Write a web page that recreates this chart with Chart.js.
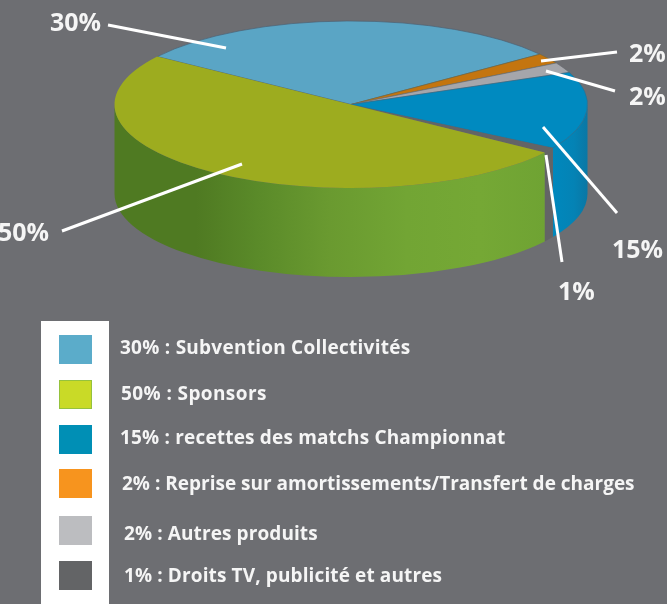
<!DOCTYPE html>
<html lang="fr">
<head>
<meta charset="utf-8">
<title>Répartition des recettes</title>
<script src="https://cdn.jsdelivr.net/npm/chart.js@4/dist/chart.umd.min.js"></script>
<style>
  html, body { margin: 0; padding: 0; background: #6d6e72; }
  #page { position: relative; width: 667px; height: 604px; overflow: hidden; background: #6d6e72; font-family: "Open Sans", sans-serif; font-weight: 700; color: #f5f5f5; }
  #pie { position: absolute; left: 0; top: 0; }
  #strip { position: absolute; left: 41px; top: 321px; width: 68px; height: 283px; background: #fff; }
  .swatch { position: absolute; left: 59px; width: 33px; height: 29px; box-sizing: border-box; }
  .legend-text { position: absolute; font-size: 19px; line-height: 24px; white-space: nowrap; }
  .pct { position: absolute; font-size: 25px; line-height: 30px; white-space: nowrap; }
</style>
</head>
<body>
<div id="page">
  <canvas id="pie" width="667" height="604"></canvas>
  <div id="strip"></div>
</div>
<script>
// slices clockwise as they sit on the pie
const categories = ['Subvention Collectivités', 'Reprise sur amortissements/Transfert de charges', 'Autres produits', 'recettes des matchs Championnat', 'Droits TV, publicité et autres', 'Sponsors']
const shares = [30, 2, 2, 15, 1, 50]

// legend reads in another order than the pie
const legendOrder = [0, 5, 3, 1, 2, 4]

const topColors = ['#5aa5c5', '#c4750f', '#a5a6ab', '#008ac0', '#636466', '#9dac1f']
const edgeColors = ['#4d5f70', '#7a6a3a', '#6a6c72', '#2f6a8a', '#636466', '#8a9f20']
const edgeWidths = [1, 1, 1, 0.8, 0, 0]
const legendColors = ['#5bacca', '#f7941e', '#bcbdc0', '#008fb5', '#636466', '#c9da27']

// side wall colours, left to right across each wall
const wallStops = {
  3: [[0, '#0088bd'], [0.6, '#0483b5'], [1, '#0a77a4']],
  4: [[0, '#636466'], [1, '#636466']],
  5: [[0, '#4f7a22'], [0.19, '#4f7a22'], [0.33, '#5a8a29'], [0.5, '#6a9a30'], [0.68, '#72a534'], [0.85, '#75a835'], [1, '#6fa333']]
}

const pieBox = { cx: 351, cy: 104.5, rx: 236.5, ry: 83.5, depth: 89 }

// leader lines and the % label at their outer end
const callouts = [
  { text: '30%', x: 50, y: 6, line: [108, 25, 226, 48] },
  { text: '50%', x: -2, y: 216, line: [62, 231, 242, 164] },
  { text: '15%', x: 612, y: 233, line: [617, 213, 543, 127] },
  { text: '1%', x: 558, y: 275, line: [562, 262, 546, 155] },
  { text: '2%', x: 629, y: 37, line: [617, 52, 541, 61] },
  { text: '2%', x: 629, y: 80, line: [615, 91, 546, 71] }
]

const legendRows = [
  { swatchTop: 335, textLeft: 120, textTop: 335, spacing: 0.25 },
  { swatchTop: 380, textLeft: 121, textTop: 381, spacing: 0.4 },
  { swatchTop: 425, textLeft: 120, textTop: 425, spacing: 0.18 },
  { swatchTop: 469, textLeft: 122, textTop: 471, spacing: 0 },
  { swatchTop: 516, textLeft: 124, textTop: 521, spacing: 0.1 },
  { swatchTop: 561, textLeft: 124, textTop: 563, spacing: 0.12 }
]

const page = document.getElementById('page')

const addDiv = (className, text, left, top) => {
  const el = document.createElement('div')
  el.className = className
  el.textContent = text
  el.style.left = `${left}px`
  el.style.top = `${top}px`
  page.appendChild(el)
  return el
}

legendOrder.forEach((slice, i) => {
  const row = legendRows[i]
  const swatch = addDiv('swatch', '', 59, row.swatchTop)
  swatch.style.background = legendColors[slice]
  if (slice === 5) swatch.style.border = '1px solid #95c23d'
  const label = addDiv('legend-text', `${shares[slice]}% : ${categories[slice]}`, row.textLeft, row.textTop)
  label.style.letterSpacing = `${row.spacing}px`
})

callouts.forEach((c) => addDiv('pct', c.text, c.x, c.y))

// squashes the flat pie into an ellipse and gives it a side wall
const tiltPlugin = {
  id: 'tilt',
  beforeDatasetsDraw(chart) {
    const { ctx } = chart
    const { cx, cy, rx, ry, depth } = pieBox
    chart.getDatasetMeta(0).data.forEach((arc, i) => {
      const a0 = Math.max(arc.startAngle, 0)
      const a1 = Math.min(arc.endAngle, Math.PI)
      if (a1 <= a0 || !wallStops[i]) return
      const left = cx + rx * Math.cos(a1)
      const right = cx + rx * Math.cos(a0)
      const grad = ctx.createLinearGradient(left, 0, right, 0)
      wallStops[i].forEach(([at, color]) => grad.addColorStop(at, color))
      ctx.beginPath()
      ctx.ellipse(cx, cy, rx, ry, 0, a0, a1)
      ctx.ellipse(cx, cy + depth, rx, ry, 0, a1, a0, true)
      ctx.closePath()
      ctx.fillStyle = grad
      ctx.fill()
    })
  },
  beforeDatasetDraw(chart) {
    const { ctx } = chart
    const arc = chart.getDatasetMeta(0).data[0]
    const r = arc.outerRadius
    ctx.save()
    ctx.translate(pieBox.cx, pieBox.cy)
    ctx.scale(pieBox.rx / r, pieBox.ry / r)
    ctx.translate(-arc.x, -arc.y)
  },
  afterDatasetDraw(chart) {
    chart.ctx.restore()
  },
  afterDraw(chart) {
    const { ctx } = chart
    ctx.save()
    ctx.strokeStyle = '#ffffff'
    ctx.lineWidth = 3
    callouts.forEach(({ line }) => {
      ctx.beginPath()
      ctx.moveTo(line[0], line[1])
      ctx.lineTo(line[2], line[3])
      ctx.stroke()
    })
    ctx.restore()
  }
}

new Chart(document.getElementById('pie'), {
  type: 'pie',
  data: {
    labels: categories,
    datasets: [
      {
        data: shares,
        backgroundColor: topColors,
        borderColor: edgeColors,
        borderWidth: edgeWidths,
        radius: 236.5,
        clip: false
      }
    ]
  },
  options: {
    responsive: false,
    animation: false,
    rotation: -55,
    layout: { padding: 0 },
    plugins: { legend: { display: false }, tooltip: { enabled: false } }
  },
  plugins: [tiltPlugin]
})
</script>
</body>
</html>
